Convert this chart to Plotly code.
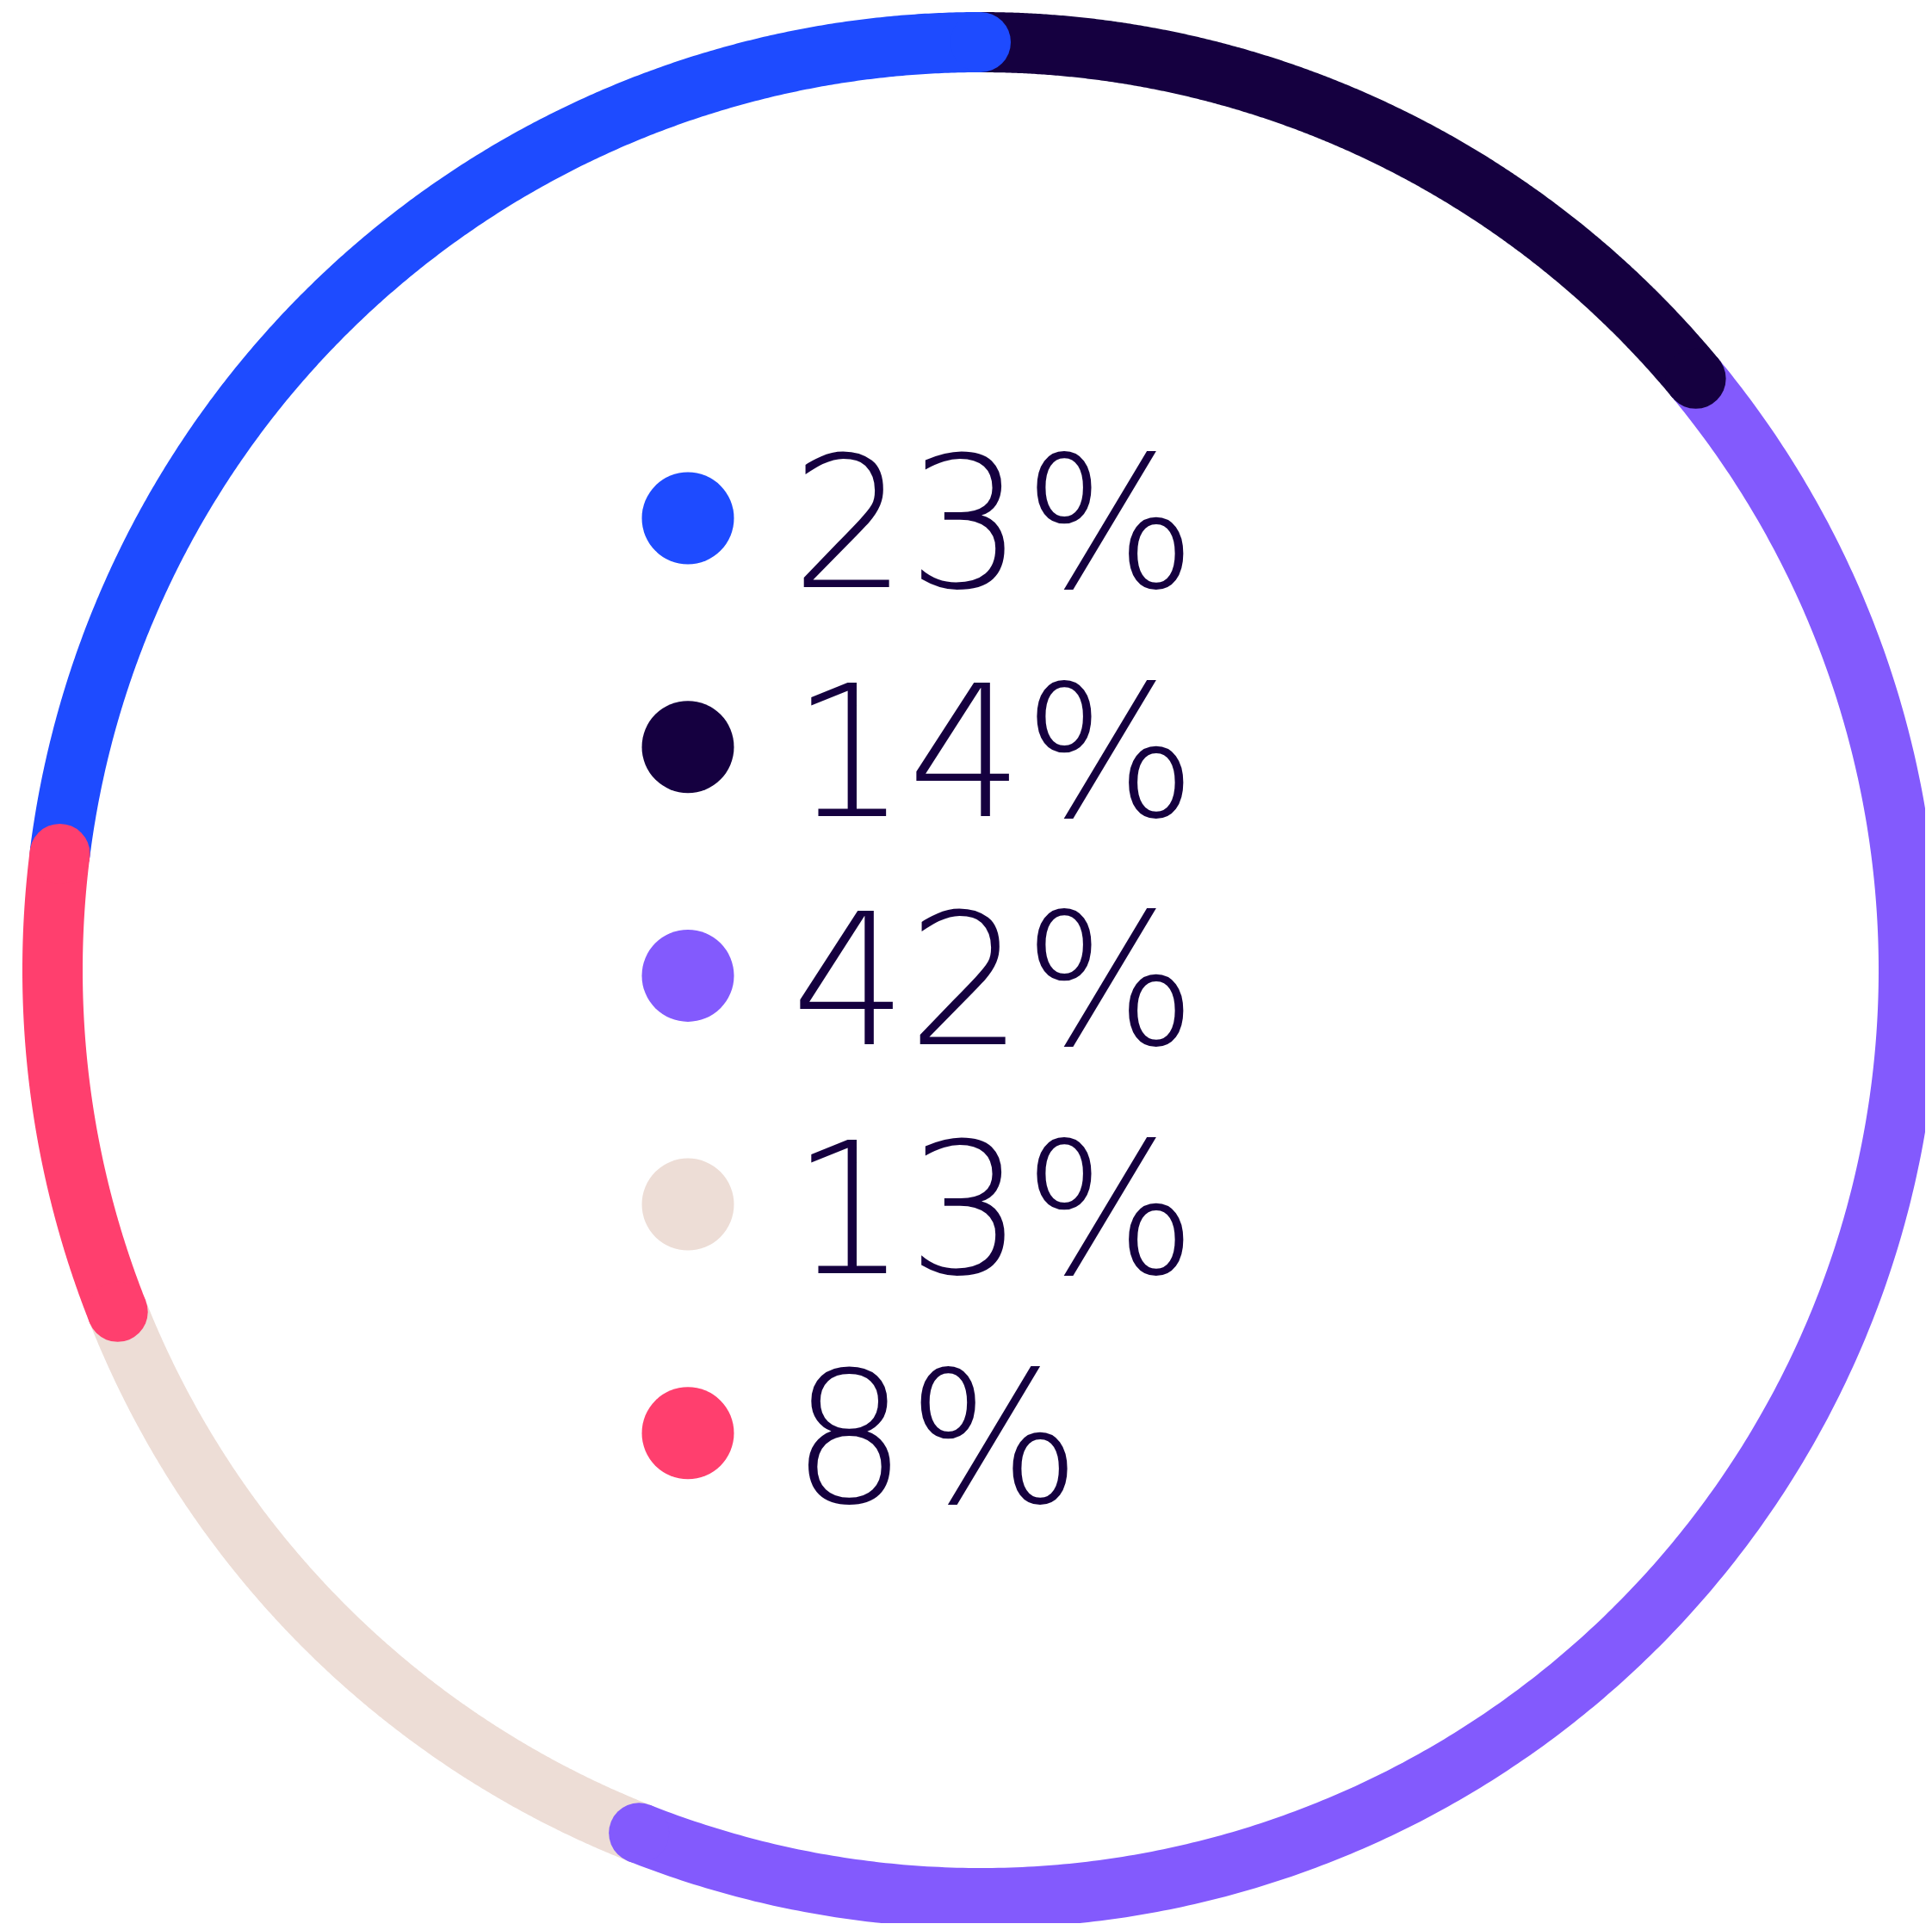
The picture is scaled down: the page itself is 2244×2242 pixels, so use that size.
import numpy as np
import plotly.graph_objects as go

# Data (clockwise from 12 o'clock)
segments = ["navy", "purple", "beige", "pink", "blue"]
shares = [14, 42, 13, 8, 23]
seg_colors = ["#150040", "#835AFD", "#EDDDD6", "#FF3F6E", "#1E4BFF"]
# drawing order (later drawn on top)
draw_order = ["beige", "purple", "navy", "blue", "pink"]

# Legend (top to bottom)
legend_labels = ["23%", "14%", "42%", "13%", "8%"]
legend_colors = ["#1E4BFF", "#150040", "#835AFD", "#EDDDD6", "#FF3F6E"]

W, H = 2244, 2242
PAD = 8  # default page body margin
cx, cy, R = 1139, 1127, 1078
STROKE = 70
TEXT_COLOR = "#15003F"

fig = go.Figure()

total = sum(shares)
cum = np.concatenate([[0], np.cumsum(shares)])
bounds = {s: (cum[i] / total * 360, cum[i + 1] / total * 360) for i, s in enumerate(segments)}
color_of = dict(zip(segments, seg_colors))

for s in draw_order:
    a0, a1 = bounds[s]
    th = np.radians(np.linspace(a0, a1, 400))
    x = cx + R * np.sin(th)
    y = cy - R * np.cos(th)
    fig.add_trace(go.Scatter(x=x, y=y, mode="lines",
                             line=dict(color=color_of[s], width=STROKE, simplify=False),
                             hoverinfo="skip", showlegend=False))
    fig.add_trace(go.Scatter(x=[x[0], x[-1]], y=[y[0], y[-1]], mode="markers",
                             marker=dict(color=color_of[s], size=STROKE, line=dict(width=0)),
                             hoverinfo="skip", showlegend=False))

# legend rows
row_top = 602
row_gap = 265.7
ys = [row_top + i * row_gap for i in range(len(legend_labels))]
fig.add_trace(go.Scatter(x=[799] * len(ys), y=ys, mode="markers",
                         marker=dict(color=legend_colors, size=107, line=dict(width=0)),
                         hoverinfo="skip", showlegend=False))
fig.add_trace(go.Scatter(x=[919] * len(ys), y=[v + 27 for v in ys], mode="text", text=legend_labels,
                         textposition="middle right",
                         textfont=dict(family="DejaVu Sans", size=212, color=TEXT_COLOR, weight=200),
                         hoverinfo="skip", showlegend=False))

fig.update_layout(
    width=W - 2 * PAD, height=H - 2 * PAD,
    margin=dict(l=0, r=0, t=0, b=0),
    paper_bgcolor="white", plot_bgcolor="white",
    xaxis=dict(range=[PAD, W - PAD], visible=False, fixedrange=True),
    yaxis=dict(range=[H - PAD, PAD], visible=False, fixedrange=True),
    showlegend=False,
)

fig.write_html("out.html")
